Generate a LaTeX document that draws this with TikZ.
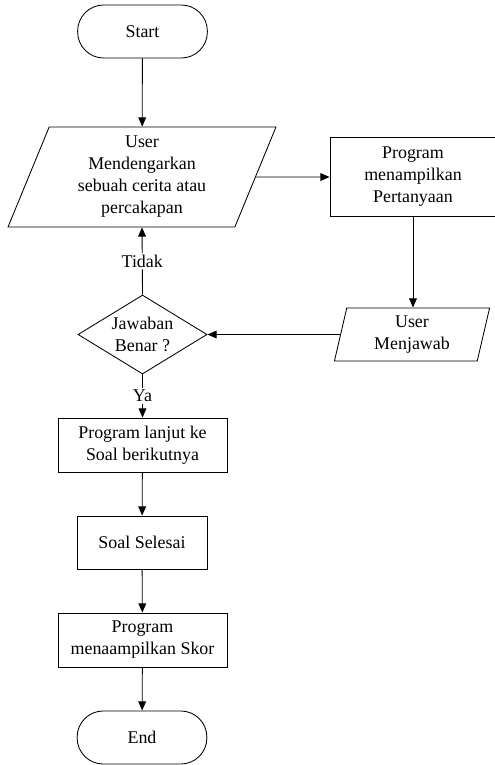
\documentclass[tikz,border=0pt]{standalone}
\usepackage{fontspec}
\setmainfont{Liberation Serif}
\usepackage{tikz}
\usetikzlibrary{shapes.geometric,arrows.meta}
\newcommand{\flowFont}{\fontsize{12.7pt}{15.6pt}\selectfont}
\tikzset{
  flowLine/.style={draw=black, line width=0.6pt},
  flowArrow/.style={flowLine, -{Triangle[length=6.5pt,width=5.5pt]}},
  termBox/.style={draw, line width=0.6pt, rectangle, rounded corners=18.5pt,
    minimum width=92pt, minimum height=37.6pt, align=center, font=\flowFont},
  procBox/.style={draw, line width=0.6pt, rectangle, align=center,
    inner sep=2pt, font=\flowFont},
  ioBox/.style={draw, line width=0.6pt, trapezium, trapezium stretches body,
    align=center, inner sep=1pt, font=\flowFont},
  decBox/.style={draw, line width=0.6pt, diamond, aspect=1.63, align=center,
    minimum width=91.5pt, minimum height=56pt, inner sep=0pt, font=\flowFont},
  edgeLbl/.style={fill=white, inner sep=1.5pt, font=\flowFont},
}

\begin{document}
\begin{tikzpicture}[x=0.709pt, y=-0.709pt]
  \useasboundingbox (0,0) rectangle (495,765);

  % main column
  \node[termBox] (start) at (142.5,31.5) {Start};
  \node[ioBox, trapezium left angle=64, trapezium right angle=116,
        minimum width=190pt, minimum height=70.9pt] (listen) at (142,177)
        {User\\Mendengarkan\\sebuah cerita atau\\percakapan};
  \node[decBox] (check) at (142.5,334.5) {Jawaban\\Benar ?};
  \node[procBox, minimum width=119.8pt, minimum height=38.3pt] (next) at (142.5,445)
        {Program lanjut ke\\Soal berikutnya};
  \node[procBox, minimum width=92.2pt, minimum height=37.6pt] (done) at (142,542.5)
        {Soal Selesai};
  \node[procBox, minimum width=119.8pt, minimum height=38.3pt] (score) at (142.5,640)
        {Program\\menaampilkan Skor};
  \node[termBox] (stop) at (142,737.5) {End};

  % right column
  \node[procBox, minimum width=117.7pt, minimum height=56pt] (question) at (413,177)
        {Program\\menampilkan\\Pertanyaan};
  \node[ioBox, trapezium left angle=73, trapezium right angle=107,
        minimum width=110pt, minimum height=37.6pt] (answer) at (412,334.5)
        {User\\Menjawab};

  % connectors
  \draw[flowArrow] (start) -- (listen);
  \draw[flowArrow] (listen.east) -- (question.west);
  \draw[flowArrow] (question.south) -- (question.south |- answer.north);
  \draw[flowArrow] (answer.west) -- (check.east);
  \draw[flowArrow] (check.north) -- node[edgeLbl] {Tidak} (listen.south);
  \draw[flowArrow] (check.south) -- node[edgeLbl] {Ya} (next.north);
  \draw[flowArrow] (next) -- (done);
  \draw[flowArrow] (done) -- (score);
  \draw[flowArrow] (score) -- (stop);
\end{tikzpicture}
\end{document}
